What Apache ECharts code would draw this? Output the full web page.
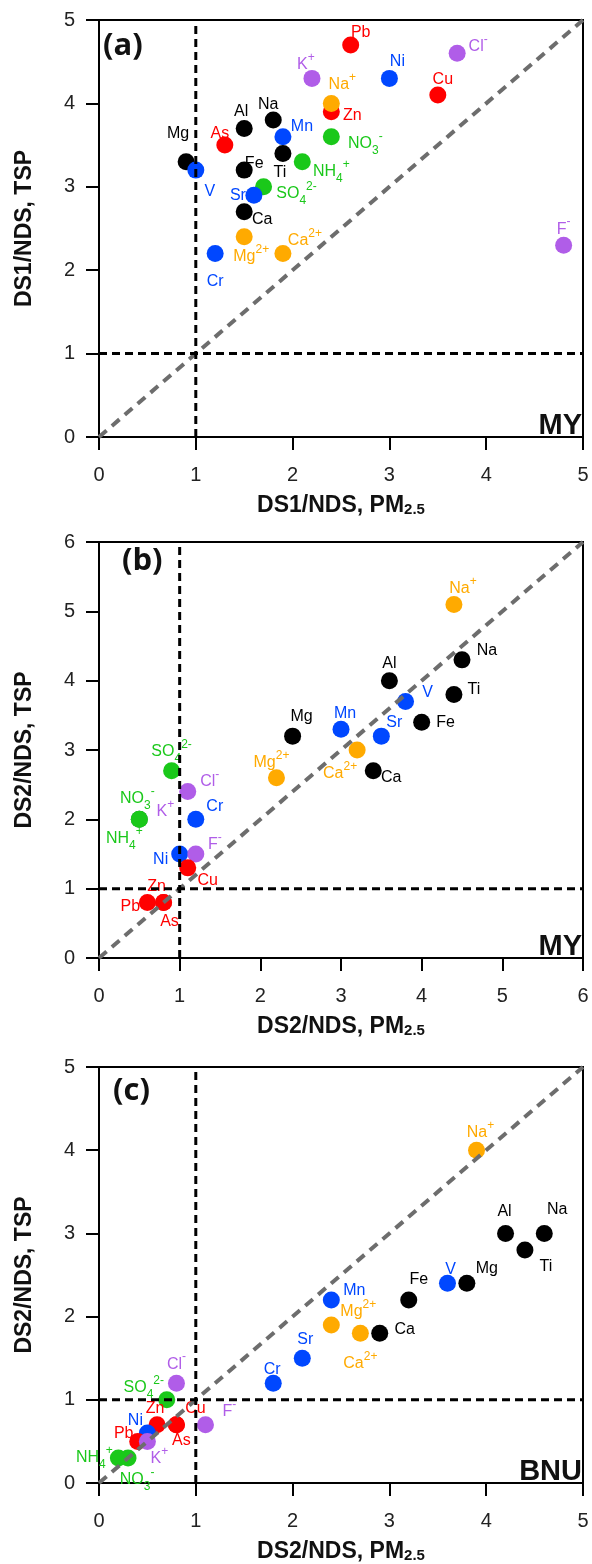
<!DOCTYPE html>
<html>
<head>
<meta charset="utf-8">
<script src="https://cdn.jsdelivr.net/npm/echarts@6/dist/echarts.min.js"></script>
<style>
  html, body { margin: 0; padding: 0; background: #fff; }
  #chart { width: 592px; height: 1564px; }
</style>
</head>
<body>
<div id="chart"></div>
<script>
// ---- data: ratio of enrichment, PM2.5 (x) vs TSP (y) ----
// (a) DS1/NDS, MY
const speciesA = ["Pb", "Cl-", "K+", "Ni", "Cu", "Zn", "Na+", "Na", "Al", "Mn", "NO3-", "As", "Ti", "Mg",
  "NH4+", "V", "Fe", "SO42-", "Sr", "Ca", "Mg2+", "Ca2+", "Cr", "F-"];
const xA = [2.6, 3.7, 2.2, 3.0, 3.5, 2.4, 2.4, 1.8, 1.5, 1.9, 2.4, 1.3, 1.9, 0.9,
  2.1, 1.0, 1.5, 1.7, 1.6, 1.5, 1.5, 1.9, 1.2, 4.8];
const yA = [4.7, 4.6, 4.3, 4.3, 4.1, 3.9, 4.0, 3.8, 3.7, 3.6, 3.6, 3.5, 3.4, 3.3,
  3.3, 3.2, 3.2, 3.0, 2.9, 2.7, 2.4, 2.2, 2.2, 2.3];

// (b) DS2/NDS, MY
const speciesB = ["Na+", "Na", "Al", "Ti", "V", "Fe", "Mn", "Sr", "Mg", "Ca2+", "Ca", "Mg2+",
  "SO42-", "Cl-", "K+", "NO3-", "NH4+", "Cr", "Ni", "F-", "Cu", "Zn", "Pb", "As"];
const xB = [4.4, 4.5, 3.6, 4.4, 3.8, 4.0, 3.0, 3.5, 2.4, 3.2, 3.4, 2.2,
  0.9, 1.1, 0.5, 0.5, 0.5, 1.2, 1.0, 1.2, 1.1, 0.8, 0.6, 0.8];
const yB = [5.1, 4.3, 4.0, 3.8, 3.7, 3.4, 3.3, 3.2, 3.2, 3.0, 2.7, 2.6,
  2.7, 2.4, 2.0, 2.0, 2.0, 2.0, 1.5, 1.5, 1.3, 0.8, 0.8, 0.8];

// (c) DS2/NDS, BNU
const speciesC = ["Na+", "Al", "Na", "Ti", "V", "Mg", "Fe", "Mn", "Mg2+", "Ca2+", "Ca", "Sr",
  "Cr", "Cl-", "SO42-", "Zn", "Cu", "As", "F-", "Ni", "Pb", "K+", "NH4+", "NO3-"];
const xC = [3.9, 4.2, 4.6, 4.4, 3.6, 3.8, 3.2, 2.4, 2.4, 2.7, 2.9, 2.1,
  1.8, 0.8, 0.7, 0.6, 0.8, 0.8, 1.1, 0.5, 0.4, 0.5, 0.2, 0.3];
const yC = [4.0, 3.0, 3.0, 2.8, 2.4, 2.4, 2.2, 2.2, 1.9, 1.8, 1.8, 1.5,
  1.2, 1.2, 1.0, 0.7, 0.7, 0.7, 0.7, 0.6, 0.5, 0.5, 0.3, 0.3];

const panelLetters = ["(a)", "(b)", "(c)"];
const siteNames = ["MY", "MY", "BNU"];
const axisMax = [5, 6, 5];
const xTitles = ["DS1/NDS, PM{s|2.5}", "DS2/NDS, PM{s|2.5}", "DS2/NDS, PM{s|2.5}"];
const yTitles = ["DS1/NDS, TSP", "DS2/NDS, TSP", "DS2/NDS, TSP"];

// ---- styling ----
const BLACK = "#000000", BLUE = "#0047ff", RED = "#ff0000", GREEN = "#1ac81a", ORANGE = "#ffaa00", PURPLE = "#b05de8";
const COLORS = {
  "Al": BLACK, "Na": BLACK, "Mg": BLACK, "Fe": BLACK, "Ti": BLACK, "Ca": BLACK,
  "V": BLUE, "Mn": BLUE, "Sr": BLUE, "Cr": BLUE, "Ni": BLUE,
  "Pb": RED, "As": RED, "Zn": RED, "Cu": RED,
  "NO3-": GREEN, "NH4+": GREEN, "SO42-": GREEN,
  "Na+": ORANGE, "Mg2+": ORANGE, "Ca2+": ORANGE,
  "K+": PURPLE, "Cl-": PURPLE, "F-": PURPLE
};
const DISPLAY = {
  "K+": "K{sup|+}", "Na+": "Na{sup|+}", "Mg2+": "Mg{sup|2+}", "Ca2+": "Ca{sup|2+}",
  "NH4+": "NH{sub|4}{sup|+}", "NO3-": "NO{sub|3}{sup|-}", "SO42-": "SO{sub|4}{sup|2-}",
  "Cl-": "Cl{sup|-}", "F-": "F{sup|-}"
};

// label placement (offset of label centre from point centre, px)
const labelOffA = {
  "Pb": [10, -12], "Cl-": [21, -7], "K+": [-6, -14], "Ni": [8, -17], "Cu": [5, -15], "Zn": [21, 4],
  "Na+": [11, -19], "Na": [-5, -15], "Al": [-3, -17], "Mn": [19, -10], "NO3-": [34, 7], "As": [-5, -12],
  "Ti": [-3, 19], "Mg": [-8, -28], "NH4+": [29, 10], "V": [14, 21], "Fe": [10, -7], "SO42-": [33, 7],
  "Sr": [-16, 0], "Ca": [18, 8], "Mg2+": [7, 20], "Ca2+": [22, -13], "Cr": [0, 28], "F-": [0, -16]
};
const labelOffB = {
  "Na+": [9, -16], "Na": [25, -9], "Al": [0, -17], "Ti": [20, -5], "V": [22, -9], "Fe": [24, 0],
  "Mn": [4, -16], "Sr": [13, -14], "Mg": [9, -20], "Ca2+": [-17, 24], "Ca": [18, 7], "Mg2+": [-5, -15],
  "SO42-": [0, -19], "Cl-": [22, -10], "K+": [26, -8], "NO3-": [-2, -21], "NH4+": [-15, 19], "Cr": [19, -13],
  "Ni": [-19, 6], "F-": [19, -9], "Cu": [20, 13], "Zn": [-7, -16], "Pb": [-17, 4], "As": [6, 19]
};
const labelOffC = {
  "Na+": [4, -18], "Al": [-1, -22], "Na": [13, -24], "Ti": [21, 17], "V": [3, -14], "Mg": [20, -15],
  "Fe": [10, -20], "Mn": [23, -9], "Mg2+": [27, -13], "Ca2+": [0, 30], "Ca": [25, -4], "Sr": [3, -19],
  "Cr": [-1, -14], "Cl-": [0, -19], "SO42-": [-23, -12], "Zn": [-2, -16], "Cu": [19, -16], "As": [5, 16],
  "F-": [24, -13], "Ni": [-12, -12], "Pb": [-14, -8], "K+": [12, 17], "NH4+": [-24, 0], "NO3-": [9, 22]
};

const GRIDS = [
  { left: 99, top: 20, width: 484, height: 417 },
  { left: 99, top: 542, width: 484, height: 416 },
  { left: 99, top: 1067, width: 484, height: 416 }
];

const FONT = "'Liberation Sans', Arial, sans-serif";

function pointData(species, xs, ys, offs) {
  return species.map((s, i) => ({
    value: [xs[i], ys[i]],
    itemStyle: { color: COLORS[s], opacity: 1 },
    label: {
      formatter: DISPLAY[s] || s,
      color: COLORS[s],
      offset: offs[s] || [0, -16]
    }
  }));
}

const panels = [
  pointData(speciesA, xA, yA, labelOffA),
  pointData(speciesB, xB, yB, labelOffB),
  pointData(speciesC, xC, yC, labelOffC)
];

const xAxes = [], yAxes = [], series = [], graphics = [];
GRIDS.forEach((g, i) => {
  const max = axisMax[i];
  xAxes.push({
    gridIndex: i, type: "value", min: 0, max: max, interval: 1,
    splitLine: { show: false },
    axisLine: { show: true, onZero: false, lineStyle: { color: "#000", width: 2 } },
    axisTick: { show: true, length: 13, lineStyle: { color: "#000", width: 2 } },
    axisLabel: { fontSize: 20, color: "#222", margin: 28, fontFamily: FONT },
    name: xTitles[i], nameLocation: "middle", nameGap: 57,
    nameTextStyle: {
      fontSize: 23, fontWeight: "bold", color: "#111", fontFamily: FONT,
      rich: { s: { fontSize: 15, fontWeight: "bold", verticalAlign: "bottom", lineHeight: 12, fontFamily: FONT } }
    }
  });
  yAxes.push({
    gridIndex: i, type: "value", min: 0, max: max, interval: 1,
    splitLine: { show: false },
    axisLine: { show: true, onZero: false, lineStyle: { color: "#000", width: 2 } },
    axisTick: { show: true, length: 13, lineStyle: { color: "#000", width: 2 } },
    axisLabel: { fontSize: 20, color: "#222", margin: 24, fontFamily: FONT },
    name: yTitles[i], nameLocation: "middle", nameGap: 63,
    nameTextStyle: { fontSize: 23, fontWeight: "bold", color: "#111", fontFamily: FONT }
  });

  series.push({
    type: "scatter", xAxisIndex: i, yAxisIndex: i, z: 2,
    symbol: "circle", symbolSize: 17,
    itemStyle: { opacity: 1 },
    label: {
      show: true, position: "inside", fontSize: 16, fontFamily: FONT,
      lineHeight: 26, align: "center", verticalAlign: "middle",
      rich: {
        sup: { fontSize: 12, lineHeight: 12, verticalAlign: "top", fontFamily: FONT },
        sub: { fontSize: 12, lineHeight: 12, verticalAlign: "bottom", fontFamily: FONT }
      }
    },
    emphasis: { disabled: true },
    data: panels[i]
  });

  const dashBlack = { color: "#000", width: 3, type: [8, 5] };
  [[[1, 0], [1, max]], [[0, 1], [max, 1]]].forEach(d => series.push({
    type: "line", xAxisIndex: i, yAxisIndex: i, z: 4, silent: true,
    symbol: "none", lineStyle: dashBlack, data: d
  }));
  series.push({
    type: "line", xAxisIndex: i, yAxisIndex: i, z: 3, silent: true,
    symbol: "none", lineStyle: { color: "#6d6d6d", width: 4, type: [10, 7] },
    data: [[0, 0], [max, max]]
  });

  const letterPos = [[103, 31], [122, 546], [113, 1076]][i];
  graphics.push({
    type: "text", left: letterPos[0], top: letterPos[1],
    style: { text: panelLetters[i], font: "bold 31px 'Open Sans', sans-serif", fill: "#111" }
  });
  graphics.push({
    type: "text", x: g.left + g.width - 1, y: g.top + g.height + 3,
    style: {
      text: siteNames[i], font: "bold 29px " + FONT, fill: "#111",
      textAlign: "right", textVerticalAlign: "bottom"
    }
  });
});

const chart = echarts.init(document.getElementById("chart"), null, { renderer: "canvas" });
chart.setOption({
  animation: false,
  backgroundColor: "#fff",
  grid: GRIDS.map(g => Object.assign({ show: true, borderColor: "#000", borderWidth: 2, containLabel: false }, g)),
  xAxis: xAxes,
  yAxis: yAxes,
  series: series,
  graphic: graphics
});
window.addEventListener("resize", () => chart.resize());
</script>
</body>
</html>
